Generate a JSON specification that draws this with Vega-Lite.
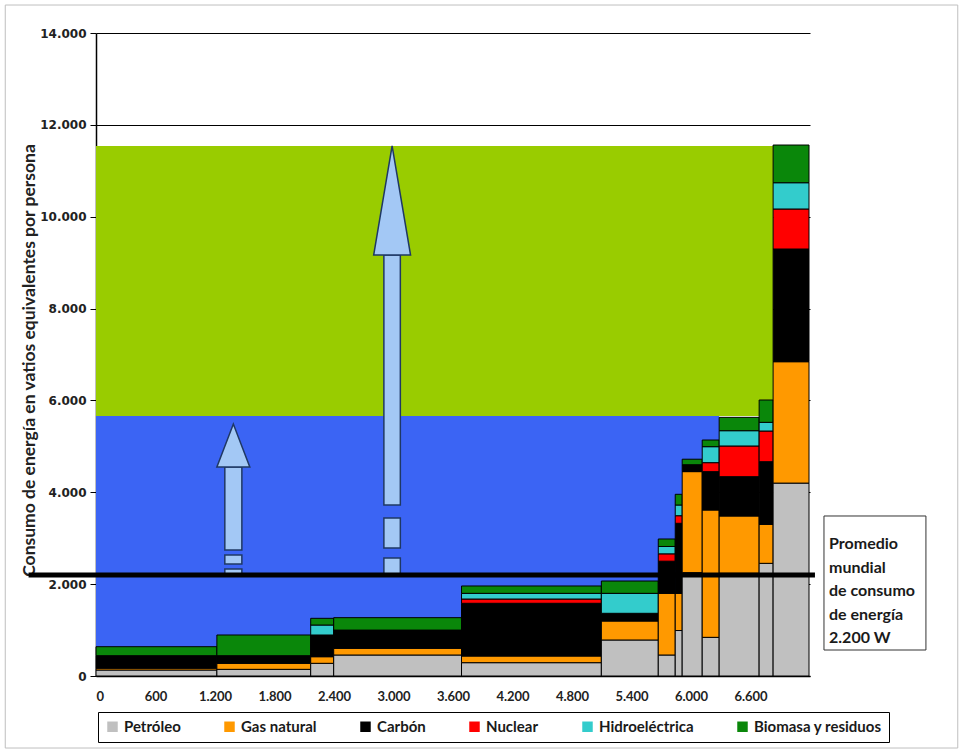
{
  "$schema": "https://vega.github.io/schema/vega-lite/v6.json",
  "width": 714,
  "height": 643,
  "autosize": {"type": "none"},
  "padding": {"left": 96, "top": 33, "right": 154, "bottom": 77},
  "background": "white",
  "config": {
    "view": {"stroke": null},
    "axis": {"labelFont": "DejaVu Sans", "labelFontWeight": "bold", "labelColor": "#222", "domainColor": "#000", "tickColor": "#000", "gridColor": "#000", "gridWidth": 1}
  },
  "datasets": {
    "barras": [
      {"x0": 0, "x1": 1219, "Petróleo": 130, "Gas natural": 40, "Carbón": 272, "Nuclear": 0, "Hidroeléctrica": 0, "Biomasa y residuos": 196},
      {"x0": 1219, "x1": 2165, "Petróleo": 145, "Gas natural": 131, "Carbón": 166, "Nuclear": 0, "Hidroeléctrica": 0, "Biomasa y residuos": 451},
      {"x0": 2165, "x1": 2397, "Petróleo": 276, "Gas natural": 144, "Carbón": 473, "Nuclear": 0, "Hidroeléctrica": 217, "Biomasa y residuos": 146},
      {"x0": 2397, "x1": 3686, "Petróleo": 457, "Gas natural": 146, "Carbón": 397, "Nuclear": 0, "Hidroeléctrica": 0, "Biomasa y residuos": 270},
      {"x0": 3686, "x1": 5096, "Petróleo": 290, "Gas natural": 145, "Carbón": 1148, "Nuclear": 93, "Hidroeléctrica": 124, "Biomasa y residuos": 160},
      {"x0": 5096, "x1": 5670, "Petróleo": 784, "Gas natural": 413, "Carbón": 168, "Nuclear": 0, "Hidroeléctrica": 435, "Biomasa y residuos": 268},
      {"x0": 5670, "x1": 5841, "Petróleo": 457, "Gas natural": 1343, "Carbón": 700, "Nuclear": 160, "Hidroeléctrica": 160, "Biomasa y residuos": 163},
      {"x0": 5841, "x1": 5911, "Petróleo": 990, "Gas natural": 810, "Carbón": 1525, "Nuclear": 165, "Hidroeléctrica": 233, "Biomasa y residuos": 233},
      {"x0": 5911, "x1": 6113, "Petróleo": 2250, "Gas natural": 2200, "Carbón": 150, "Nuclear": 0, "Hidroeléctrica": 0, "Biomasa y residuos": 120},
      {"x0": 6113, "x1": 6284, "Petróleo": 842, "Gas natural": 2772, "Carbón": 835, "Nuclear": 196, "Hidroeléctrica": 348, "Biomasa y residuos": 145},
      {"x0": 6284, "x1": 6687, "Petróleo": 2236, "Gas natural": 1248, "Carbón": 856, "Nuclear": 668, "Hidroeléctrica": 333, "Biomasa y residuos": 291},
      {"x0": 6687, "x1": 6828, "Petróleo": 2453, "Gas natural": 849, "Carbón": 1364, "Nuclear": 668, "Hidroeléctrica": 189, "Biomasa y residuos": 486},
      {"x0": 6828, "x1": 7190, "Petróleo": 4200, "Gas natural": 2643, "Carbón": 2454, "Nuclear": 871, "Hidroeléctrica": 572, "Biomasa y residuos": 821}
    ],
    "fondos": [
      {"zona": "verde", "x0": 0, "x1": 6828, "y0": 5660, "y1": 11540},
      {"zona": "azul", "x0": 0, "x1": 6284, "y0": 0, "y1": 5660}
    ],
    "astiles": [
      {"flecha": 1, "x0": 1299, "x1": 1471, "y0": 2743, "y1": 4550},
      {"flecha": 1, "x0": 1299, "x1": 1471, "y0": 2438, "y1": 2634},
      {"flecha": 1, "x0": 1299, "x1": 1471, "y0": 2199, "y1": 2330},
      {"flecha": 2, "x0": 2903, "x1": 3069, "y0": 3723, "y1": 9166},
      {"flecha": 2, "x0": 2903, "x1": 3069, "y0": 2787, "y1": 3440},
      {"flecha": 2, "x0": 2903, "x1": 3069, "y0": 2221, "y1": 2569}
    ],
    "puntas": [
      {"flecha": 1, "x0": 1219, "y1": 4550, "y0": 4550},
      {"flecha": 1, "x0": 1385, "y1": 5487, "y0": 4550},
      {"flecha": 1, "x0": 1551, "y1": 4550, "y0": 4550},
      {"flecha": 2, "x0": 2800, "y1": 9166, "y0": 9166},
      {"flecha": 2, "x0": 2986, "y1": 11540, "y0": 9166},
      {"flecha": 2, "x0": 3172, "y1": 9166, "y0": 9166}
    ],
    "promedio": [
      {"valor": 2200, "desde": -680, "hasta": 7250}
    ]
  },
  "layer": [
    {
      "data": {"values": [{"x0": -915, "x1": 8690, "y0": -1568, "y1": 14609}]},
      "mark": {"type": "rect", "fill": null, "stroke": "#BFBFBF", "strokeWidth": 1},
      "encoding": {
        "x": {"field": "x0", "type": "quantitative", "scale": {"domain": [0, 7200], "nice": false, "zero": false}, "axis": {"values": [0, 600, 1200, 1800, 2400, 3000, 3600, 4200, 4800, 5400, 6000, 6600], "labelExpr": "replace(format(datum.value, ','), ',', '.')", "ticks": false, "labelPadding": 14, "labelFont": "Lato", "labelFontSize": 13, "grid": false, "domainWidth": 1.5}, "title": null},
        "x2": {"field": "x1"},
        "y": {"field": "y0", "type": "quantitative", "scale": {"domain": [0, 14000], "nice": false}, "axis": {"values": [0, 2000, 4000, 6000, 8000, 10000, 12000, 14000], "labelExpr": "replace(format(datum.value, ','), ',', '.')", "tickSize": 6, "labelPadding": 4, "labelFontSize": 12, "grid": true, "titleFont": "Lato", "titleFontSize": 17.5, "titleFontWeight": "bold", "titleColor": "#222", "titlePadding": 1, "titleY": 327, "domainWidth": 1.5}, "title": "Consumo de energía en vatios equivalentes por persona"},
        "y2": {"field": "y1"}
      }
    },
    {
      "data": {"name": "fondos"},
      "mark": {"type": "rect"},
      "encoding": {
        "x": {"field": "x0", "type": "quantitative"},
        "x2": {"field": "x1"},
        "y": {"field": "y0", "type": "quantitative"},
        "y2": {"field": "y1"},
        "fill": {"field": "zona", "type": "nominal", "scale": {"domain": ["verde", "azul"], "range": ["#99CC00", "#3B64F4"]}, "legend": null}
      }
    },
    {
      "data": {"name": "barras"},
      "transform": [
        {"fold": ["Petróleo", "Gas natural", "Carbón", "Nuclear", "Hidroeléctrica", "Biomasa y residuos"], "as": ["fuente", "valor"]},
        {"stack": "valor", "groupby": ["x0"], "as": ["y0", "y1"]}
      ],
      "mark": {"type": "rect", "stroke": "#000", "strokeWidth": 1},
      "encoding": {
        "x": {"field": "x0", "type": "quantitative"},
        "x2": {"field": "x1"},
        "y": {"field": "y0", "type": "quantitative"},
        "y2": {"field": "y1"},
        "color": {"field": "fuente", "type": "nominal", "title": null,
          "scale": {"domain": ["Petróleo", "Gas natural", "Carbón", "Nuclear", "Hidroeléctrica", "Biomasa y residuos"], "range": ["#C0C0C0", "#FF9900", "#000000", "#FF0000", "#33CCCC", "#0A870A"]},
          "legend": {"orient": "none", "legendX": 2, "legendY": 679, "direction": "horizontal", "strokeColor": "#000", "padding": 7, "symbolType": "square", "symbolSize": 110, "symbolStrokeWidth": 0, "labelFont": "Lato", "labelFontWeight": "bold", "labelFontSize": 15, "labelColor": "#1a1a1a", "columnPadding": 41, "symbolOffset": 0}}
      }
    },
    {
      "data": {"name": "astiles"},
      "mark": {"type": "rect", "fill": "#A3C8F5", "stroke": "#1F3864", "strokeWidth": 1.5},
      "encoding": {
        "x": {"field": "x0", "type": "quantitative"},
        "x2": {"field": "x1"},
        "y": {"field": "y0", "type": "quantitative"},
        "y2": {"field": "y1"}
      }
    },
    {
      "data": {"name": "puntas"},
      "mark": {"type": "area", "fill": "#A3C8F5", "stroke": "#1F3864", "strokeWidth": 1.5, "fillOpacity": 1},
      "encoding": {
        "x": {"field": "x0", "type": "quantitative"},
        "y": {"field": "y1", "type": "quantitative"},
        "y2": {"field": "y0"},
        "detail": {"field": "flecha"}
      }
    },
    {
      "data": {"name": "promedio"},
      "mark": {"type": "rule", "stroke": "#000", "strokeWidth": 5},
      "encoding": {
        "x": {"field": "desde", "type": "quantitative"},
        "x2": {"field": "hasta"},
        "y": {"field": "valor", "type": "quantitative"}
      }
    },
    {
      "data": {"name": "promedio"},
      "mark": {"type": "rect", "fill": "white", "stroke": "#333", "strokeWidth": 1},
      "encoding": {
        "x": {"datum": 7341, "type": "quantitative"},
        "x2": {"datum": 8369},
        "y": {"datum": 566, "type": "quantitative"},
        "y2": {"datum": 3484}
      }
    },
    {
      "data": {"name": "promedio"},
      "mark": {"type": "text", "align": "left", "baseline": "alphabetic", "font": "Lato", "fontWeight": "bold", "fontSize": 16, "lineHeight": 23.5, "color": "#1a1a1a", "text": ["Promedio", "mundial", "de consumo", "de energía", "2.200 W"]},
      "encoding": {
        "x": {"datum": 7392, "type": "quantitative"},
        "y": {"datum": 2765, "type": "quantitative"}
      }
    }
  ]
}
